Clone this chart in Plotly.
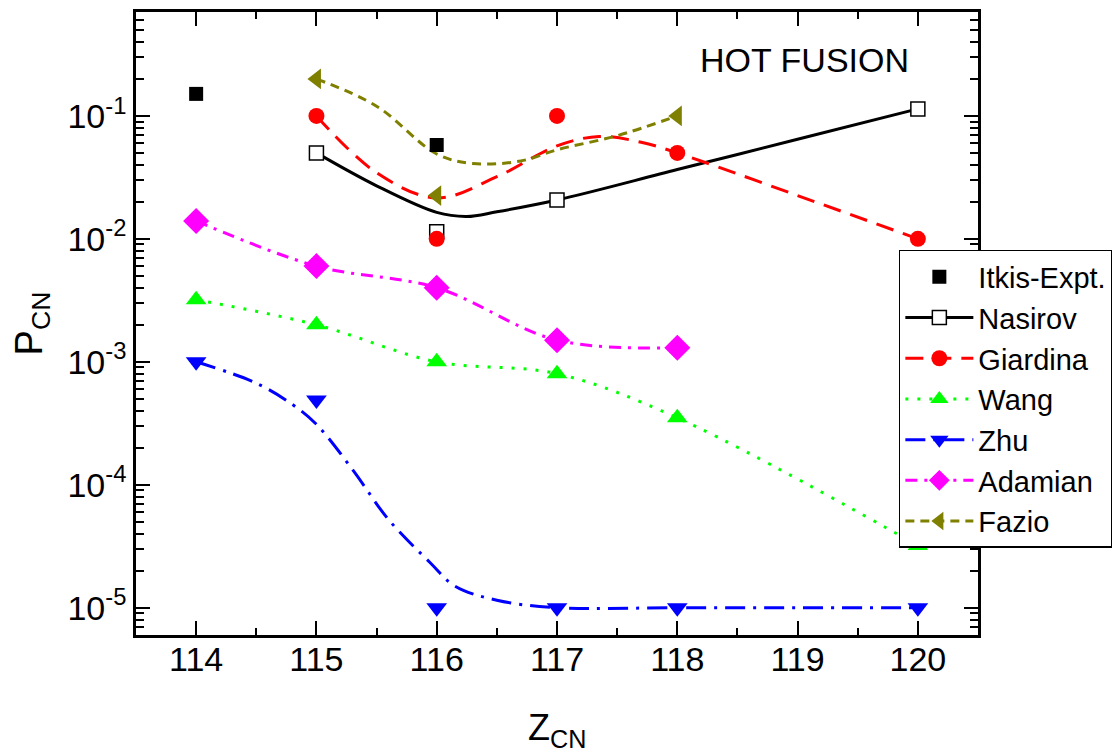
import plotly.graph_objects as go

# ---------------- data ----------------
z_itkis = [114, 116]
p_itkis = [0.151, 0.058]

z_nasirov = [115, 116, 117, 120]
p_nasirov = [0.050, 0.0114, 0.0207, 0.114]
z_nasirov_fit = [115, 115.5, 116, 116.25, 116.5, 117, 118, 119, 120]
p_nasirov_fit = [0.050, 0.027, 0.0164, 0.0152, 0.0166, 0.0207, 0.0366, 0.0645, 0.114]

z_giardina = [115, 116, 117, 118, 120]
p_giardina = [0.10, 0.010, 0.10, 0.050, 0.010]
z_giardina_fit = [115, 115.5, 116, 116.5, 117, 117.35, 117.7, 118, 119, 120]
p_giardina_fit = [0.10, 0.0345, 0.0215, 0.032, 0.057, 0.068, 0.061, 0.050, 0.0225, 0.010]

z_wang = [114, 115, 116, 117, 118, 120]
p_wang = [0.0032, 0.0020, 0.0010, 0.0008, 0.00035, 3.2e-5]

z_zhu = [114, 115, 116, 117, 118, 120]
p_zhu = [0.0010, 0.00049, 1.0e-5, 1.0e-5, 1.0e-5, 1.0e-5]
z_zhu_fit = [114, 114.5, 114.8, 115, 115.3, 115.6, 115.95, 116.15, 116.5, 117, 118, 119, 120]
p_zhu_fit = [0.0010, 0.00067, 0.00045, 0.00031, 0.000133, 5.2e-5, 2.3e-5, 1.5e-5,
             1.15e-5, 1.0e-5, 1.0e-5, 1.0e-5, 1.0e-5]

z_adamian = [114, 115, 116, 117, 118]
p_adamian = [0.014, 0.0060, 0.0040, 0.0015, 0.0013]

z_fazio = [115, 116, 118]
p_fazio = [0.20, 0.0225, 0.10]
z_fazio_fit = [115, 115.5, 116, 116.3, 116.7, 117, 117.5, 118]
p_fazio_fit = [0.20, 0.12, 0.049, 0.041, 0.043, 0.053, 0.069, 0.10]

x_ticks = [114, 115, 116, 117, 118, 119, 120]
y_ticks = [1e-5, 1e-4, 1e-3, 1e-2, 1e-1]
y_ticktext = ["10<sup>-5</sup>", "10<sup>-4</sup>", "10<sup>-3</sup>",
              "10<sup>-2</sup>", "10<sup>-1</sup>"]

# ---------------- styles ----------------
W = 3
FONT = "Liberation Sans, Arial, sans-serif"
series = [
    ("Itkis-Expt.", (z_itkis, p_itkis), None, "black", "square", dict(size=14, color="black"), None),
    ("Nasirov", (z_nasirov, p_nasirov), (z_nasirov_fit, p_nasirov_fit), "black", "square",
     dict(size=14, color="white", line=dict(color="black", width=1.5)), "solid"),
    ("Giardina", (z_giardina, p_giardina), (z_giardina_fit, p_giardina_fit), "#ff0000", "circle",
     dict(size=16, color="#ff0000"), "18px,10px"),
    ("Wang", (z_wang, p_wang), (z_wang, p_wang), "#00ff00", "triangle-up",
     dict(size=18, color="#00ff00"), "3px,9px"),
    ("Zhu", (z_zhu, p_zhu), (z_zhu_fit, p_zhu_fit), "#0000ff", "triangle-down",
     dict(size=18, color="#0000ff"), "20px,8px,3px,8px"),
    ("Adamian", (z_adamian, p_adamian), (z_adamian, p_adamian), "#ff00ff", "diamond",
     dict(size=20, color="#ff00ff"), "12px,7px,3px,7px"),
    ("Fazio", (z_fazio, p_fazio), (z_fazio_fit, p_fazio_fit), "#808000", "triangle-left",
     dict(size=18, color="#808000"), "9px,6px"),
]

fig = go.Figure()
for name, pts, fit, col, sym, mk, dash in series:
    if fit is not None:
        fig.add_trace(go.Scatter(x=fit[0], y=fit[1], mode="lines", showlegend=False,
                                 line=dict(color=col, width=W, dash=dash, shape="spline"),
                                 hoverinfo="skip"))
for name, pts, fit, col, sym, mk, dash in series:
    fig.add_trace(go.Scatter(x=pts[0], y=pts[1], mode="markers", showlegend=False,
                             marker=dict(symbol=sym, **mk), name=name))
# legend proxies
for name, pts, fit, col, sym, mk, dash in series:
    if fit is None:
        fig.add_trace(go.Scatter(x=[None], y=[None], mode="markers", name=name,
                                 marker=dict(symbol=sym, **mk)))
    else:
        fig.add_trace(go.Scatter(x=[None], y=[None], mode="lines+markers", name=name,
                                 line=dict(color=col, width=W, dash=dash),
                                 marker=dict(symbol=sym, **mk)))

minor_y = [m * 10.0 ** e for e in range(-6, 0) for m in range(2, 10)]

fig.update_xaxes(
    type="linear", range=[113.5, 120.5],
    tickmode="array", tickvals=x_ticks,
    ticks="inside", ticklen=14, tickwidth=2, tickcolor="black",
    minor=dict(ticks="inside", ticklen=7, tickwidth=2, tickcolor="black", dtick=0.5),
    showline=True, linewidth=2.5, linecolor="black", mirror="allticks",
    showgrid=False, zeroline=False, ticklabelstandoff=-8,
    tickfont=dict(family=FONT, size=34, color="black"),
)
fig.update_yaxes(
    type="log", range=[-5.222, -0.155],
    tickmode="array", tickvals=y_ticks, ticktext=y_ticktext,
    ticks="inside", ticklen=14, tickwidth=2, tickcolor="black",
    minor=dict(ticks="inside", ticklen=8, tickwidth=2, tickcolor="black",
               tickmode="array", tickvals=minor_y),
    showline=True, linewidth=2.5, linecolor="black", mirror="allticks",
    showgrid=False, zeroline=False,
    tickfont=dict(family=FONT, size=34, color="black"),
    title=dict(text="P<sub>CN</sub>", font=dict(family=FONT, size=38, color="black"),
               standoff=14),
)

fig.add_annotation(text="Z<sub>CN</sub>", x=0.5, y=-0.152, xref="paper", yref="paper",
                   xanchor="center", yanchor="middle", showarrow=False,
                   font=dict(family=FONT, size=36, color="black"))
fig.add_annotation(text="HOT FUSION", x=119.06, y=-0.545, xref="x", yref="y",
                   showarrow=False, font=dict(family=FONT, size=34, color="black"))

fig.update_layout(
    width=1120, height=753,
    margin=dict(l=128, r=150, t=4, b=126, autoexpand=False),
    plot_bgcolor="white", paper_bgcolor="white",
    legend=dict(x=0.906, y=0.618, xanchor="left", yanchor="top",
                bgcolor="white", bordercolor="black", borderwidth=1.5,
                font=dict(family=FONT, size=29, color="black"),
                itemwidth=68, tracegroupgap=0),
    showlegend=True,
)

fig.write_html("out.html")
